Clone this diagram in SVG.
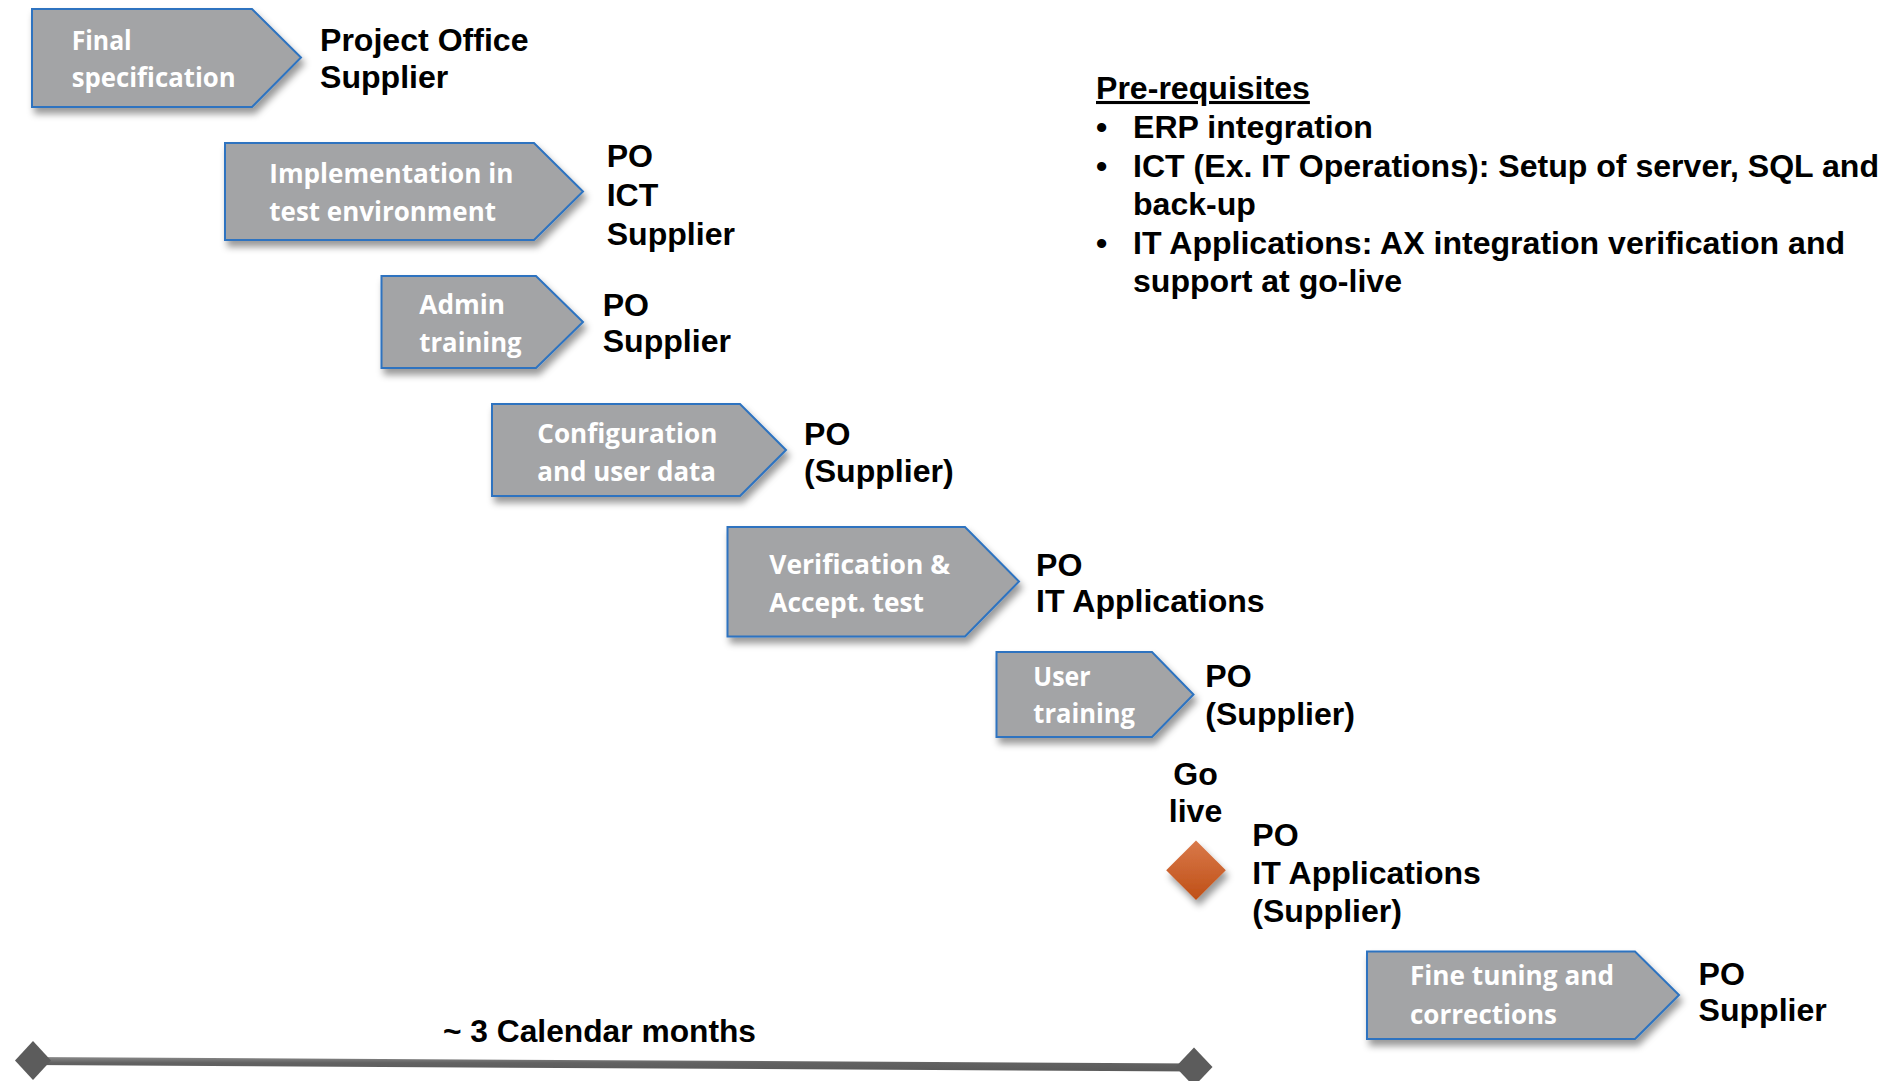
<svg xmlns="http://www.w3.org/2000/svg" width="1895" height="1081" viewBox="0 0 1895 1081">
<defs>
<filter id="sh" x="-10%" y="-10%" width="130%" height="140%">
<feDropShadow dx="3" dy="6" stdDeviation="3.5" flood-color="#000" flood-opacity="0.4"/>
</filter>
<linearGradient id="dg" x1="0" y1="0" x2="0" y2="1">
<stop offset="0" stop-color="#d9794a"/>
<stop offset="1" stop-color="#bf4f16"/>
</linearGradient>
<linearGradient id="bg" x1="0" y1="0" x2="0" y2="1">
<stop offset="0" stop-color="#8a8a8a"/>
<stop offset="0.4" stop-color="#626262"/>
<stop offset="1" stop-color="#5a5a5a"/>
</linearGradient>
<style>
.chev{fill:#a3a4a6;stroke:#2d73c0;stroke-width:2;filter:url(#sh)}
.lbl{font-family:"Open Sans",Lato,sans-serif;font-weight:700;font-size:26.5px;fill:#ffffff}
.k{font-family:"Liberation Sans",Arial,sans-serif;font-weight:700;font-size:31px;fill:#000000}
</style>
</defs>

<g id="connectors"></g>

<g id="final-specification">
<path class="chev" d="M32,9 H252 L301,57.5 L252,107 H32 Z"/>
<text class="lbl" x="71.7" y="50" textLength="60" lengthAdjust="spacingAndGlyphs">Final</text>
<text class="lbl" x="71.7" y="87.3" textLength="164" lengthAdjust="spacingAndGlyphs">specification</text>
<text class="k" transform="matrix(1.035 0 0 1 320 51)"><tspan x="0" y="0">Project Office</tspan><tspan x="0" y="37">Supplier</tspan></text>
</g>

<g id="implementation">
<path class="chev" d="M225,143 H534 L583,191.5 L534,240 H225 Z"/>
<text class="lbl" x="269.3" y="183.3" textLength="244" lengthAdjust="spacingAndGlyphs">Implementation in</text>
<text class="lbl" x="269.3" y="220.7" textLength="226.7" lengthAdjust="spacingAndGlyphs">test environment</text>
<text class="k" transform="matrix(1.035 0 0 1 606.7 167)"><tspan x="0" y="0">PO</tspan><tspan x="0" y="39">ICT</tspan><tspan x="0" y="78">Supplier</tspan></text>
</g>

<g id="admin-training">
<path class="chev" d="M381.5,276 H536 L583,322 L536,368 H381.5 Z"/>
<text class="lbl" x="419.3" y="314.3" textLength="85.7" lengthAdjust="spacingAndGlyphs">Admin</text>
<text class="lbl" x="419.3" y="351.7" textLength="102.3" lengthAdjust="spacingAndGlyphs">training</text>
<text class="k" transform="matrix(1.035 0 0 1 602.7 315.5)"><tspan x="0" y="0">PO</tspan><tspan x="0" y="37">Supplier</tspan></text>
</g>

<g id="configuration">
<path class="chev" d="M492,404 H740 L786,450 L740,496 H492 Z"/>
<text class="lbl" x="537.3" y="443.3" textLength="180" lengthAdjust="spacingAndGlyphs">Configuration</text>
<text class="lbl" x="537.3" y="481" textLength="178.7" lengthAdjust="spacingAndGlyphs">and user data</text>
<text class="k" transform="matrix(1.035 0 0 1 804 445)"><tspan x="0" y="0">PO</tspan><tspan x="0" y="37">(Supplier)</tspan></text>
</g>

<g id="verification">
<path class="chev" d="M727.5,527 H965 L1019,581.5 L965,636.5 H727.5 Z"/>
<text class="lbl" x="769.3" y="574" textLength="180.7" lengthAdjust="spacingAndGlyphs">Verification &amp;</text>
<text class="lbl" x="769.3" y="611.7" textLength="154.7" lengthAdjust="spacingAndGlyphs">Accept. test</text>
<text class="k" transform="matrix(1.035 0 0 1 1036 575.5)"><tspan x="0" y="0">PO</tspan><tspan x="0" y="37">IT Applications</tspan></text>
</g>

<g id="user-training">
<path class="chev" d="M996.5,652 H1152 L1193.5,694.5 L1152,737 H996.5 Z"/>
<text class="lbl" x="1033.3" y="685.7" textLength="57.3" lengthAdjust="spacingAndGlyphs">User</text>
<text class="lbl" x="1033.3" y="722.7" textLength="101.7" lengthAdjust="spacingAndGlyphs">training</text>
<text class="k" transform="matrix(1.035 0 0 1 1205.3 687)"><tspan x="0" y="0">PO</tspan><tspan x="0" y="38">(Supplier)</tspan></text>
</g>

<g id="go-live">
<text class="k" text-anchor="middle" transform="matrix(1.035 0 0 1 1195.5 784.5)"><tspan x="0" y="0">Go</tspan><tspan x="0" y="37.7">live</tspan></text>
<path d="M1196,840.5 L1225.8,870.3 L1196,900 L1166.2,870.3 Z" fill="url(#dg)" filter="url(#sh)"/>
<text class="k" transform="matrix(1.035 0 0 1 1252.3 845.5)"><tspan x="0" y="0">PO</tspan><tspan x="0" y="39">IT Applications</tspan><tspan x="0" y="76.5">(Supplier)</tspan></text>
</g>

<g id="fine-tuning">
<path class="chev" d="M1367,951.5 H1635 L1679,995 L1635,1039 H1367 Z"/>
<text class="lbl" x="1410" y="985" textLength="204" lengthAdjust="spacingAndGlyphs">Fine tuning and</text>
<text class="lbl" x="1410" y="1024" textLength="147" lengthAdjust="spacingAndGlyphs">corrections</text>
<text class="k" transform="matrix(1.035 0 0 1 1698.5 984.5)"><tspan x="0" y="0">PO</tspan><tspan x="0" y="37">Supplier</tspan></text>
</g>

<g id="prerequisites">
<text class="k" transform="matrix(1.035 0 0 1 1096 99)" text-decoration="underline">Pre-requisites</text>
<text class="k" transform="matrix(1.035 0 0 1 1096 138)">•</text>
<text class="k" transform="matrix(1.035 0 0 1 1133 138)">ERP integration</text>
<text class="k" transform="matrix(1.035 0 0 1 1096 176.5)">•</text>
<text class="k" transform="matrix(1.035 0 0 1 1133 176.5)"><tspan x="0" y="0">ICT (Ex. IT Operations): Setup of server, SQL and</tspan><tspan x="0" y="38.5">back-up</tspan></text>
<text class="k" transform="matrix(1.035 0 0 1 1096 253.5)">•</text>
<text class="k" transform="matrix(1.035 0 0 1 1133 253.5)"><tspan x="0" y="0">IT Applications: AX integration verification and</tspan><tspan x="0" y="38.5">support at go-live</tspan></text>
</g>

<g id="timeline">
<path d="M30,1057 L1195,1063.5 L1195,1071.5 L30,1065 Z" fill="url(#bg)"/>
<path d="M33,1041 L51,1060.5 L33,1080 L15,1060.5 Z" fill="#5c5c5c"/>
<path d="M1194,1047.5 L1212.5,1067 L1194,1086.5 L1175.5,1067 Z" fill="#5c5c5c"/>
<text class="k" x="443" y="1041.5" textLength="313" lengthAdjust="spacingAndGlyphs">~ 3 Calendar months</text>
</g>
</svg>
